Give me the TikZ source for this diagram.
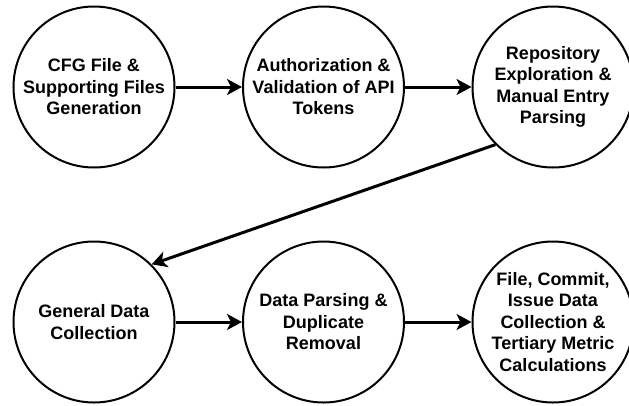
\documentclass[tikz,border=0pt]{standalone}
\usepackage{fontspec}
\setmainfont{Liberation Sans}
\usetikzlibrary{positioning, arrows.meta}
\tikzset{
	paso/.style={circle, draw, line width=2pt, minimum size=161pt, inner sep=0pt, align=center, font=\fontsize{18pt}{21.5pt}\selectfont\bfseries}, % Etapas del proceso
	flecha/.style={-{Stealth[length=15pt,width=16pt,inset=4pt]}, line width=3pt}, % Flechas gruesas
	node distance=229.5pt % Distancia entre centros
}

\begin{document}
\begin{tikzpicture}
			\useasboundingbox (-94pt,87pt) rectangle (535pt,-318pt);
			\node[paso] (c1) {CFG File \&\\Supporting Files\\Generation};
			\node[paso, right of=c1] (c2) {Authorization \&\\Validation of API\\Tokens};
			\node[paso, right of=c2] (c3) {Repository\\Exploration \&\\Manual Entry\\Parsing};
			\node[paso, below of=c1, node distance=235pt] (c4) {General Data\\Collection};
			\node[paso, right of=c4] (c5) {Data Parsing \&\\Duplicate\\Removal};
			\node[paso, right of=c5] (c6) {File, Commit,\\Issue Data\\Collection \&\\Tertiary Metric\\Calculations};
			\draw[flecha] (c1) -- (c2);
			\draw[flecha] (c2) -- (c3);
			\draw[flecha] (c3.south west) -- (c4.north east);
			\draw[flecha] (c4) -- (c5);
			\draw[flecha] (c5) -- (c6);
\end{tikzpicture}
\end{document}
